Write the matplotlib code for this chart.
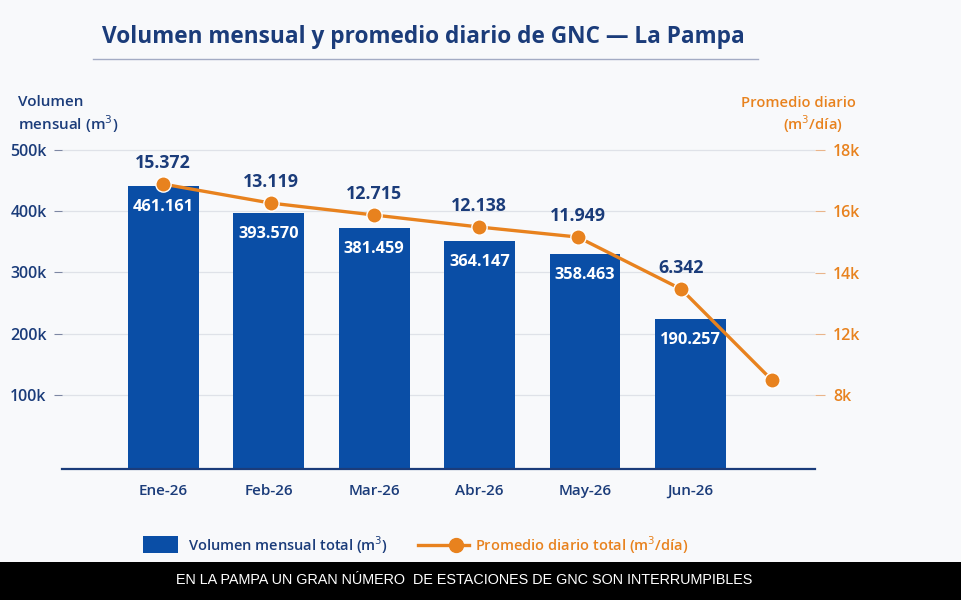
import numpy as np
import matplotlib
matplotlib.use("Agg")
import matplotlib.pyplot as plt
from matplotlib.patches import Rectangle
from matplotlib.lines import Line2D

# values
months = ['Ene-26', 'Feb-26', 'Mar-26', 'Abr-26', 'May-26', 'Jun-26']
bar_heights = [440600, 396600, 372000, 350800, 329600, 223900]
bar_labels = ['461.161', '393.570', '381.459', '364.147', '358.463', '190.257']
line_pos = [0, 1.02, 2.0, 2.99, 3.93, 4.91, 5.77]
line_vals = [16890, 16270, 15880, 15490, 15160, 13460, 10490]
line_labels = ['15.372', '13.119', '12.715', '12.138', '11.949', '6.342']
left_ticks = [100000, 200000, 300000, 400000, 500000]
left_ticklabels = ['100k', '200k', '300k', '400k', '500k']
right_ticks = [10000, 12000, 14000, 16000, 18000]
right_ticklabels = ['8k', '12k', '14k', '16k', '18k']

navy = '#1b3c7a'
blue = '#0a4ea6'
orange = '#e8821e'
bg = '#f8f9fb'

plt.rcParams['font.family'] = ['Open Sans', 'DejaVu Sans']

fig = plt.figure(figsize=(9.61, 6.0), dpi=100)
fig.patch.set_facecolor(bg)

ax = fig.add_axes([0.0645, 0.2183, 0.7836, 0.5483])
ax.set_facecolor(bg)
ymin, ymax = -20400, 515500
ax.set_ylim(ymin, ymax)
ax.set_xlim(-0.96, 6.18)

x = np.arange(len(months))
bars = ax.bar(x, np.array(bar_heights) - ymin, bottom=ymin, width=0.67, color=blue, zorder=2)
for xi, h, lab in zip(x, bar_heights, bar_labels):
    ax.annotate(lab, (xi, h), xytext=(0, -15), textcoords='offset points',
                ha='center', va='center', color='white', fontsize=11.8, fontweight='bold', zorder=5)

ax.set_yticks(left_ticks)
ax.set_yticklabels(left_ticklabels)
ax.tick_params(axis='y', length=6, width=0.8, color='#7d87a3', pad=5,
               labelcolor=navy, labelsize=11.5)
for lab in ax.get_yticklabels():
    lab.set_fontweight('semibold')
ax.grid(axis='y', color='#dfe2e8', linewidth=0.9, zorder=0)
ax.set_xticks(x)
ax.set_xticklabels(months)
ax.tick_params(axis='x', length=0, pad=11, labelcolor=navy, labelsize=11)
for lab in ax.get_xticklabels():
    lab.set_fontweight('semibold')
for s in ['top', 'right', 'left']:
    ax.spines[s].set_visible(False)
ax.spines['bottom'].set_color(navy)
ax.spines['bottom'].set_linewidth(1.6)

ax2 = ax.twinx()
ax2.set_ylim(7580, 18330)
ax2.plot(line_pos, line_vals, color=orange, linewidth=2.4, marker='o', markersize=11,
         markerfacecolor=orange, markeredgecolor='white', markeredgewidth=1.0, zorder=4)
for xi, v, lab in zip(line_pos, line_vals, line_labels):
    ax2.annotate(lab, (xi, v), xytext=(0, 15), textcoords='offset points',
                 ha='center', va='center', color=navy, fontsize=12.8, fontweight='bold')
ax2.set_yticks(right_ticks)
ax2.set_yticklabels(right_ticklabels)
ax2.tick_params(axis='y', length=7, width=0.8, color='#e9b48a', pad=6,
                labelcolor=orange, labelsize=11.5)
for lab in ax2.get_yticklabels():
    lab.set_fontweight('semibold')
for s in ['top', 'right', 'left', 'bottom']:
    ax2.spines[s].set_visible(False)

# title and underline
fig.text(0.441, 0.938, 'Volumen mensual y promedio diario de GNC \u2014 La Pampa',
         ha='center', va='center', color=navy, fontsize=16.3, fontweight='bold')
fig.add_artist(Line2D([93 / 961, 758 / 961], [1 - 59 / 600, 1 - 59 / 600],
                      color='#a3abc4', linewidth=1.0))

# axis titles
fig.text(18 / 961, 1 - 102 / 600, 'Volumen', ha='left', va='center', color=navy,
         fontsize=11, fontweight='semibold')
fig.text(18 / 961, 1 - 124 / 600, 'mensual (m$^3$)', ha='left', va='center', color=navy,
         fontsize=11, fontweight='semibold')
fig.text(856 / 961, 1 - 103 / 600, 'Promedio diario', ha='right', va='center', color=orange,
         fontsize=10.6, fontweight='semibold')
fig.text(813 / 961, 1 - 124 / 600, '(m$^3$/día)', ha='center', va='center', color=orange,
         fontsize=10.6, fontweight='semibold')

# legend
fig.add_artist(Rectangle((143 / 961, 1 - 553 / 600), 35 / 961, 17 / 600,
                         facecolor=blue, edgecolor='none'))
fig.text(188 / 961, 1 - 545 / 600, 'Volumen mensual total (m$^3$)', ha='left', va='center',
         color=navy, fontsize=10.5, fontweight='semibold')
fig.add_artist(Line2D([418 / 961, 447 / 961], [1 - 545 / 600, 1 - 545 / 600],
                      color=orange, linewidth=2.4))
fig.add_artist(Line2D([464 / 961, 469 / 961], [1 - 545 / 600, 1 - 545 / 600],
                      color=orange, linewidth=2.4))
fig.add_artist(Line2D([456 / 961], [1 - 545 / 600], color=orange, marker='o',
                      markersize=10, linestyle='none'))
fig.text(475 / 961, 1 - 545 / 600, 'Promedio diario total (m$^3$/día)', ha='left', va='center',
         color=orange, fontsize=10.5, fontweight='semibold')

# bottom caption band
fig.add_artist(Rectangle((0, 0), 1, 38 / 600, facecolor='black', edgecolor='none'))
fig.text(464 / 961, 20 / 600, 'EN LA PAMPA UN GRAN NÚMERO  DE ESTACIONES DE GNC SON INTERRUMPIBLES',
         ha='center', va='center', color='white', fontsize=10.4,
         family=['Liberation Sans', 'DejaVu Sans'])

fig.savefig('out.png', dpi=100, facecolor=fig.get_facecolor())
